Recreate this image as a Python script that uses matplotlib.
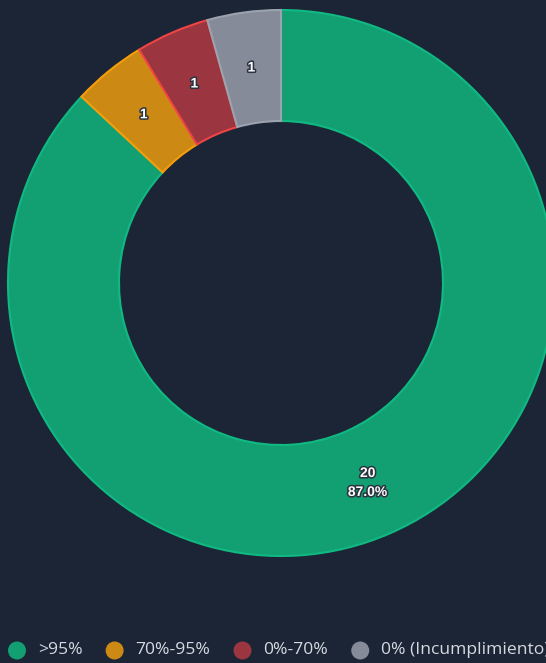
import matplotlib
matplotlib.use('Agg')
import matplotlib.pyplot as plt
import matplotlib.patheffects as pe
from matplotlib.patches import Circle
import numpy as np

# data
labels = ['>95%', '70%-95%', '0%-70%', '0% (Incumplimiento)']
values = [20, 1, 1, 1]
fill_colors = ['#12a073', '#cc8914', '#9b3540', '#858b98']
edge_colors = ['#10b981', '#f59e0b', '#ef4444', '#9ca3af']

bg = '#1b2536'
W, H = 546, 663

plt.rcParams['font.family'] = ['Open Sans', 'DejaVu Sans']

fig = plt.figure(figsize=(W / 100, H / 100), dpi=100)
fig.patch.set_facecolor(bg)

# donut box: centre (281, 283), outer radius 273 px
cx, cy, r_out, r_in = 281, 283, 273, 162
ax = fig.add_axes([(cx - r_out) / W, (H - cy - r_out) / H, 2 * r_out / W, 2 * r_out / H])
ax.set_facecolor(bg)
ax.axis('off')

wedges, _ = ax.pie(values, colors=fill_colors, startangle=90, counterclock=False,
                   radius=1, wedgeprops=dict(width=1 - r_in / r_out, linewidth=1.5))
for w, ec in zip(wedges, edge_colors):
    w.set_edgecolor(ec)
ax.set_xlim(-1, 1)
ax.set_ylim(-1, 1)
ax.set_aspect('equal')

total = sum(values)
mid_r = (1 + r_in / r_out) / 2
for w, v in zip(wedges, values):
    ang = np.deg2rad((w.theta1 + w.theta2) / 2)
    txt = str(v)
    if v / total > 0.5:
        txt = f'{v}\n{v / total * 100:.1f}%'
    ax.text(mid_r * np.cos(ang), mid_r * np.sin(ang), txt, ha='center', va='center',
            color='white', fontsize=10, fontweight='bold', family=['Liberation Sans', 'DejaVu Sans'],
            linespacing=1.45,
            path_effects=[pe.withStroke(linewidth=2.2, foreground='#2a3340')])

# legend laid out left to right (last label runs off the right edge, as in the original)
lax = fig.add_axes([0, 0, 1, 1])
lax.set_xlim(0, W)
lax.set_ylim(H, 0)
lax.axis('off')
fig.canvas.draw()
renderer = fig.canvas.get_renderer()
x = 8
ly = 650.5
for lab, fc in zip(labels, fill_colors):
    lax.add_patch(Circle((x + 9, ly), 9, facecolor=fc, edgecolor=fc, lw=0))
    t = lax.text(x + 30, ly, lab, ha='left', va='center', color='#d5d9e0', fontsize=12.6)
    bb = t.get_window_extent(renderer)
    x = x + 30 + bb.width + 23

fig.savefig('out.png', dpi=100, facecolor=bg)
